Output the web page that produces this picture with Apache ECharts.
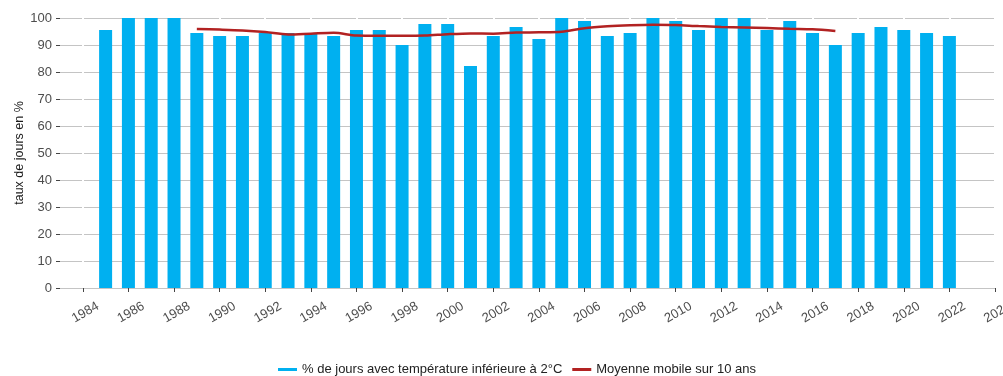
<!DOCTYPE html>
<html>
<head>
<meta charset="utf-8">
<script src="https://cdn.jsdelivr.net/npm/echarts@6/dist/echarts.min.js"></script>
<style>
  html, body { margin: 0; padding: 0; background: #fff; }
  #chart { width: 1003px; height: 376px; }
</style>
</head>
<body>
<div id="chart"></div>
<script>
// années des barres
const annees = [1985, 1986, 1987, 1988, 1989, 1990, 1991, 1992, 1993, 1994,
  1995, 1996, 1997, 1998, 1999, 2000, 2001, 2002, 2003, 2004,
  2005, 2006, 2007, 2008, 2009, 2010, 2011, 2012, 2013, 2014,
  2015, 2016, 2017, 2018, 2019, 2020, 2021, 2022];
// % de jours avec température inférieure à 2°C
const joursFroids = [95.6, 100, 100, 100, 94.4, 93.3, 93.3, 94.4, 94.4, 94.4,
  93.3, 95.6, 95.6, 90.0, 97.8, 97.8, 82.2, 93.3, 96.7, 92.2,
  100, 98.9, 93.3, 94.4, 100, 98.9, 95.6, 100, 100, 95.6,
  98.9, 94.4, 90.0, 94.4, 96.7, 95.6, 94.4, 93.3];

// moyenne mobile sur 10 ans
const anneesMoyenne = [1989, 1990, 1991, 1992, 1993, 1994, 1995, 1996, 1997, 1998,
  1999, 2000, 2001, 2002, 2003, 2004, 2005, 2006, 2007, 2008,
  2009, 2010, 2011, 2012, 2013, 2014, 2015, 2016, 2017];
const moyenneMobile = [95.9, 95.7, 95.4, 94.8, 93.9, 94.2, 94.5, 93.5, 93.4, 93.4,
  93.5, 94.0, 94.3, 94.2, 94.6, 94.7, 94.9, 96.2, 96.9, 97.3,
  97.5, 97.4, 97.0, 96.7, 96.5, 96.3, 96.0, 95.8, 95.2];

// graduations de l'axe des x
const anneesTicks = [1984, 1986, 1988, 1990, 1992, 1994, 1996, 1998, 2000, 2002,
  2004, 2006, 2008, 2010, 2012, 2014, 2016, 2018, 2020, 2022, 2024];

const nomBarres = '% de jours avec température inférieure à 2°C';
const nomMoyenne = 'Moyenne mobile sur 10 ans';

const chart = echarts.init(document.getElementById('chart'));

const option = {
  animation: false,
  textStyle: { fontFamily: 'Liberation Sans, Arial, sans-serif' },
  grid: { left: 60, right: 8, top: 18, bottom: 88, outerBoundsMode: 'none' },
  legend: {
    top: 358,
    left: 273,
    itemWidth: 19,
    itemHeight: 3,
    itemGap: 10,
    textStyle: { fontSize: 13, color: '#222' },
    data: [
      { name: nomBarres, icon: 'rect' },
      { name: nomMoyenne, icon: 'rect' }
    ]
  },
  xAxis: {
    type: 'value',
    min: 1983,
    max: 2024,
    offset: 13,
    axisLine: { show: false },
    splitLine: { show: false },
    axisTick: {
      show: true,
      length: 4,
      customValues: anneesTicks,
      lineStyle: { color: '#444' }
    },
    axisLabel: {
      customValues: anneesTicks,
      rotate: 30,
      align: 'center',
      verticalAlign: 'middle',
      margin: 13,
      padding: [0, 0, 0, 6],
      fontSize: 13,
      color: '#4d4d4d',
      formatter: v => String(v)
    }
  },
  yAxis: {
    type: 'value',
    min: 0,
    max: 100,
    interval: 10,
    name: 'taux de jours en %',
    nameLocation: 'middle',
    nameRotate: 90,
    nameGap: 34,
    nameMoveOverlap: false,
    nameTextStyle: { fontSize: 12.5, color: '#1a1a1a' },
    axisLine: { show: false },
    axisTick: { show: true, length: 4, lineStyle: { color: '#444' } },
    axisLabel: { margin: 8, fontSize: 13, color: '#4d4d4d' },
    splitLine: { lineStyle: { color: '#c4c4c4', width: 1.2 } }
  },
  series: [
    {
      // lignes blanches verticales sous les barres
      type: 'line',
      z: 1,
      silent: true,
      data: [],
      markLine: {
        z: 1,
        silent: true,
        symbol: 'none',
        label: { show: false },
        lineStyle: { color: '#ffffff', type: 'solid', width: 2 },
        data: anneesTicks.map(a => ({ xAxis: a }))
      }
    },
    {
      name: nomBarres,
      type: 'bar',
      z: 2,
      barWidth: 13,
      itemStyle: { color: '#00b0f0' },
      data: annees.map((a, i) => [a, joursFroids[i]])
    },
    {
      name: nomMoyenne,
      type: 'line',
      z: 3,
      smooth: 0.3,
      showSymbol: false,
      lineStyle: { color: '#b22222', width: 2.5 },
      itemStyle: { color: '#b22222' },
      data: anneesMoyenne.map((a, i) => [a, moyenneMobile[i]])
    }
  ]
};

chart.setOption(option);
</script>
</body>
</html>
